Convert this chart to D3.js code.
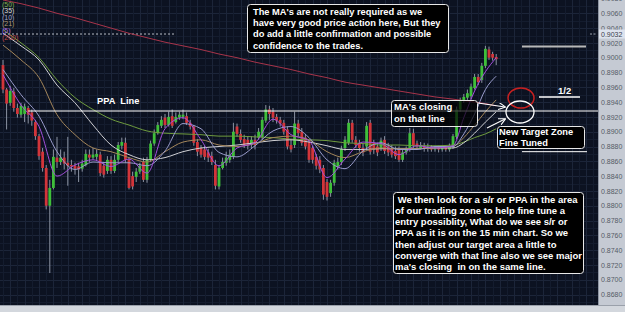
<!DOCTYPE html>
<html>
<head>
<meta charset="utf-8">
<script src="https://cdn.jsdelivr.net/npm/d3@7"></script>
<style>
  html, body { margin: 0; padding: 0; background: #0c1221; }
  svg { display: block; }
  text { font-family: "Liberation Sans", Arial, sans-serif; white-space: pre; }
</style>
</head>
<body>
<svg id="chart" width="625" height="312"></svg>
<script>
// 15 min candles
const open = [
  0.8990,0.8957,0.8939,0.8954,0.8932,0.8923,0.8924,0.8932,0.8926,0.8913,
  0.8894,0.8873,0.8851,0.8800,0.8824,0.8865,0.8859,0.8865,0.8858,0.8855,
  0.8854,0.8853,0.8850,0.8855,0.8869,0.8865,0.8866,0.8869,0.8854,0.8847,
  0.8862,0.8847,0.8862,0.8881,0.8885,0.8862,0.8840,0.8839,0.8846,0.8859,
  0.8835,0.8862,0.8884,0.8898,0.8908,0.8919,0.8909,0.8921,0.8913,0.8919,
  0.8920,0.8921,0.8912,0.8907,0.8886,0.8878,0.8876,0.8872,0.8867,0.8855,
  0.8826,0.8851,0.8858,0.8862,0.8866,0.8907,0.8897,0.8890,0.8889,0.8882,
  0.8889,0.8892,0.8893,0.8915,0.8930,0.8927,0.8920,0.8916,0.8912,0.8903,
  0.8882,0.8882,0.8911,0.8900,0.8892,0.8886,0.8878,0.8866,0.8862,0.8851,
  0.8832,0.8817,0.8831,0.8853,0.8859,0.8878,0.8885,0.8912,0.8889,0.8885,
  0.8878,0.8880,0.8912,0.8885,0.8880,0.8878,0.8889,0.8880,0.8878,0.8874,
  0.8876,0.8862,0.8872,0.8876,0.8898,0.8884,0.8878,0.8881,0.8877,0.8880,
  0.8876,0.8878,0.8876,0.8878,0.8876,0.8880,0.8893,0.8930,0.8942,0.8946,
  0.8948,0.8959,0.8974,0.8970,0.8989,0.9011,0.9005,0.9001
];
const high = [
  0.8997,0.8959,0.8962,0.8959,0.8938,0.8939,0.8938,0.8935,0.8930,0.8916,
  0.8897,0.8878,0.8855,0.8835,0.8876,0.8893,0.8876,0.8873,0.8893,0.8862,
  0.8858,0.8858,0.8862,0.8876,0.8876,0.8878,0.8876,0.8873,0.8859,0.8867,
  0.8867,0.8869,0.8886,0.8892,0.8892,0.8865,0.8846,0.8851,0.8858,0.8865,
  0.8866,0.8888,0.8903,0.8913,0.8921,0.8924,0.8927,0.8930,0.8926,0.8927,
  0.8930,0.8926,0.8916,0.8909,0.8890,0.8882,0.8881,0.8877,0.8873,0.8862,
  0.8855,0.8865,0.8873,0.8876,0.8912,0.8911,0.8903,0.8896,0.8893,0.8894,
  0.8896,0.8905,0.8920,0.8936,0.8935,0.8932,0.8924,0.8920,0.8916,0.8907,
  0.8889,0.8927,0.8916,0.8905,0.8897,0.8890,0.8881,0.8870,0.8867,0.8855,
  0.8836,0.8835,0.8862,0.8865,0.8881,0.8894,0.8917,0.8916,0.8894,0.8889,
  0.8884,0.8913,0.8916,0.8889,0.8885,0.8892,0.8894,0.8885,0.8882,0.8880,
  0.8880,0.8876,0.8880,0.8905,0.8904,0.8888,0.8886,0.8885,0.8884,0.8882,
  0.8881,0.8881,0.8881,0.8881,0.8884,0.8897,0.8934,0.8946,0.8951,0.8957,
  0.8965,0.8978,0.8978,0.8993,0.9016,0.9015,0.9008,0.9005
];
const low = [
  0.8952,0.8903,0.8935,0.8927,0.8919,0.8919,0.8913,0.8911,0.8908,0.8889,
  0.8862,0.8846,0.8795,0.8709,0.8822,0.8851,0.8855,0.8849,0.8827,0.8846,
  0.8842,0.8832,0.8846,0.8853,0.8859,0.8862,0.8862,0.8840,0.8838,0.8843,
  0.8843,0.8844,0.8858,0.8876,0.8858,0.8822,0.8822,0.8832,0.8843,0.8832,
  0.8831,0.8859,0.8881,0.8896,0.8905,0.8905,0.8907,0.8905,0.8911,0.8916,
  0.8917,0.8909,0.8903,0.8881,0.8867,0.8865,0.8862,0.8859,0.8855,0.8822,
  0.8822,0.8849,0.8854,0.8858,0.8863,0.8893,0.8885,0.8878,0.8876,0.8878,
  0.8876,0.8889,0.8889,0.8912,0.8916,0.8913,0.8911,0.8907,0.8896,0.8876,
  0.8872,0.8878,0.8894,0.8881,0.8876,0.8858,0.8857,0.8849,0.8844,0.8808,
  0.8807,0.8812,0.8827,0.8849,0.8855,0.8874,0.8882,0.8885,0.8878,0.8873,
  0.8867,0.8876,0.8869,0.8870,0.8867,0.8874,0.8870,0.8867,0.8865,0.8863,
  0.8859,0.8859,0.8869,0.8873,0.8878,0.8876,0.8876,0.8873,0.8873,0.8873,
  0.8873,0.8872,0.8873,0.8873,0.8873,0.8877,0.8890,0.8927,0.8939,0.8943,
  0.8944,0.8957,0.8963,0.8966,0.8986,0.8997,0.8996,0.8990
];
const close = [
  0.8957,0.8938,0.8955,0.8932,0.8924,0.8935,0.8934,0.8923,0.8915,0.8894,
  0.8867,0.8851,0.8800,0.8824,0.8866,0.8859,0.8865,0.8857,0.8854,0.8853,
  0.8850,0.8849,0.8857,0.8870,0.8865,0.8869,0.8870,0.8844,0.8842,0.8862,
  0.8847,0.8862,0.8882,0.8886,0.8862,0.8824,0.8826,0.8846,0.8854,0.8835,
  0.8862,0.8884,0.8898,0.8909,0.8916,0.8909,0.8920,0.8908,0.8920,0.8923,
  0.8923,0.8912,0.8907,0.8885,0.8873,0.8869,0.8866,0.8865,0.8859,0.8827,
  0.8851,0.8859,0.8865,0.8869,0.8900,0.8897,0.8889,0.8882,0.8882,0.8889,
  0.8882,0.8900,0.8916,0.8930,0.8924,0.8919,0.8915,0.8911,0.8900,0.8880,
  0.8876,0.8911,0.8898,0.8885,0.8880,0.8862,0.8862,0.8854,0.8849,0.8815,
  0.8812,0.8831,0.8858,0.8859,0.8877,0.8889,0.8912,0.8889,0.8882,0.8878,
  0.8872,0.8908,0.8873,0.8876,0.8872,0.8888,0.8874,0.8872,0.8869,0.8867,
  0.8862,0.8872,0.8876,0.8898,0.8882,0.8880,0.8882,0.8877,0.8880,0.8876,
  0.8878,0.8876,0.8878,0.8876,0.8881,0.8894,0.8930,0.8943,0.8947,0.8952,
  0.8961,0.8974,0.8967,0.8989,0.9012,0.9000,0.9000,0.8998
];

// moving averages, sampled at these candle indexes
const maAt = [0,5,10,15,20,25,30,35,40,45,50,55,60,65,70,75,80,85,90,95,100,105,110,115,120,125,128,131,134,137];
const ma5 = [0.8977,0.8936,0.8907,0.8840,0.8855,0.8862,0.8853,0.8863,0.8844,0.8904,0.8919,0.8889,0.8854,0.8878,0.8885,0.8917,0.8896,0.8888,0.8838,0.8863,0.8886,0.8884,0.8869,0.8881,0.8878,0.8881,0.8919,0.8955,0.8981,0.9000];
const ma10 = [0.8984,0.8950,0.8921,0.8873,0.8849,0.8859,0.8858,0.8858,0.8854,0.8874,0.8911,0.8904,0.8872,0.8866,0.8881,0.8901,0.8907,0.8892,0.8862,0.8850,0.8874,0.8885,0.8876,0.8876,0.8880,0.8880,0.8897,0.8924,0.8957,0.8975];
const ma21 = [0.9017,0.8997,0.8973,0.8923,0.8896,0.8878,0.8873,0.8865,0.8859,0.8873,0.8886,0.8889,0.8882,0.8880,0.8884,0.8892,0.8894,0.8889,0.8873,0.8865,0.8873,0.8878,0.8877,0.8877,0.8878,0.8880,0.8892,0.8909,0.8927,0.8943];
const ma35 = [0.9033,0.9016,0.8997,0.8963,0.8939,0.8909,0.8882,0.8869,0.8862,0.8865,0.8873,0.8878,0.8880,0.8882,0.8885,0.8888,0.8889,0.8886,0.8881,0.8876,0.8876,0.8877,0.8877,0.8877,0.8878,0.8878,0.8885,0.8898,0.8913,0.8927];
const ma50 = [0.9038,0.9020,0.9000,0.8970,0.8946,0.8930,0.8917,0.8909,0.8901,0.8898,0.8897,0.8896,0.8894,0.8894,0.8893,0.8892,0.8890,0.8889,0.8888,0.8885,0.8884,0.8882,0.8882,0.8881,0.8881,0.8882,0.8886,0.8892,0.8897,0.8904];
const ma200 = [0.9078,0.9073,0.9067,0.9060,0.9054,0.9047,0.9040,0.9033,0.9027,0.9021,0.9016,0.9011,0.9005,0.9000,0.8994,0.8989,0.8984,0.8978,0.8973,0.8967,0.8963,0.8959,0.8955,0.8951,0.8947,0.8944,0.8942,0.8940,0.8938,0.8935];

const maLegend = ['(50)', '(35)', '(10)', '(21)', '(5)', '(200)'];
const priceTicks = [0.8680,0.8700,0.8720,0.8740,0.8760,0.8780,0.8800,0.8820,0.8840,0.8860,0.8880,0.8900,0.8920,0.8940,0.8960,0.8980,0.9000,0.9020,0.9040,0.9060,0.9080];
const lastPrice = 0.9032;
const ppaLevel = 0.8928;
const targetLevels = [0.9015, 0.8947, 0.8873];

const W = 625, H = 312;
const plotRight = 598, plotBottom = 305;
const svg = d3.select('#chart');

const x = d3.scaleLinear().domain([0, close.length - 1]).range([3, 496.2]);
const y = d3.scaleLinear().domain([0.8680, 0.9060]).range([294.5, 13.3]);

// background
svg.append('rect').attr('width', W).attr('height', H).attr('fill', '#0c1221');

// grid
const grid = svg.append('g');
d3.range(0.8660, 0.9090, 0.001).forEach((p, i) => {
  grid.append('line').attr('x1', 0).attr('x2', plotRight)
    .attr('y1', Math.round(y(p)) + 0.5).attr('y2', Math.round(y(p)) + 0.5)
    .attr('stroke', i % 2 ? '#141c2e' : '#1c2539').attr('stroke-width', 1);
});
d3.range(-2, 170, 2).forEach((k, i) => {
  const gx = Math.round(x(k)) + 0.5;
  if (gx > plotRight) return;
  grid.append('line').attr('x1', gx).attr('x2', gx).attr('y1', 0).attr('y2', plotBottom)
    .attr('stroke', i % 2 ? '#141c2e' : '#1c2539').attr('stroke-width', 1);
});

// dashed last-price line at the left
svg.append('line').attr('x1', 0).attr('x2', 174)
  .attr('y1', y(lastPrice)).attr('y2', y(lastPrice))
  .attr('stroke', '#b8bcc6').attr('stroke-width', 1).attr('stroke-dasharray', '2,2');

// candles
const candles = svg.append('g');
close.forEach((c, i) => {
  const up = c >= open[i];
  const cx = x(i);
  candles.append('line').attr('x1', cx).attr('x2', cx)
    .attr('y1', y(high[i])).attr('y2', y(low[i]))
    .attr('stroke', '#8c93a3').attr('stroke-width', 1);
  const top = y(Math.max(open[i], c)), bot = y(Math.min(open[i], c));
  candles.append('rect').attr('x', cx - 1.4).attr('width', 2.8)
    .attr('y', top).attr('height', Math.max(1, bot - top))
    .attr('fill', up ? '#3fbf3a' : '#d2353a');
});

// moving averages
const maLine = d3.line().x((d, i) => x(maAt[i])).y(d => y(d)).curve(d3.curveMonotoneX);
const maSeries = [
  { v: ma200, c: '#a8344a' },
  { v: ma50, c: '#6f9c3e' },
  { v: ma35, c: '#d0d0d4' },
  { v: ma21, c: '#a4865a' },
  { v: ma10, c: '#9a9ccc' },
  { v: ma5, c: '#a450dc' }
];
maSeries.forEach(s => {
  svg.append('path').datum(s.v).attr('d', maLine)
    .attr('fill', 'none').attr('stroke', s.c).attr('stroke-width', 1);
});

// legend top-left
const legendColors = ['#7fae4c', '#d8d8d8', '#a8a8c8', '#b09a70', '#b070e0', '#c04848'];
maLegend.forEach((t, i) => {
  svg.append('text').attr('x', 2).attr('y', 6.5 + i * 6.6)
    .attr('font-size', 7).attr('fill', legendColors[i]).text(t);
});

// PPA line
svg.append('line').attr('x1', x(7)).attr('x2', plotRight)
  .attr('y1', y(ppaLevel)).attr('y2', y(ppaLevel))
  .attr('stroke', '#ffffff').attr('stroke-width', 1.2);
svg.append('text').attr('x', 97).attr('y', 104).attr('font-size', 9.3)
  .attr('font-weight', 'bold').attr('fill', '#ffffff').text('PPA  Line');

// target levels on the right
const lv = svg.append('g');
lv.append('line').attr('x1', 522).attr('x2', 586).attr('y1', y(targetLevels[0])).attr('y2', y(targetLevels[0]))
  .attr('stroke', '#b8b8b8').attr('stroke-width', 2);
lv.append('line').attr('x1', 539).attr('x2', 580).attr('y1', y(targetLevels[1])).attr('y2', y(targetLevels[1]))
  .attr('stroke', '#ffffff').attr('stroke-width', 1.5);
lv.append('line').attr('x1', 522).attr('x2', 587).attr('y1', y(targetLevels[2])).attr('y2', y(targetLevels[2]))
  .attr('stroke', '#ffffff').attr('stroke-width', 1);
svg.append('text').attr('x', 558).attr('y', 93.5).attr('font-size', 9.5)
  .attr('font-weight', 'bold').attr('fill', '#ffffff').text('1/2');

// ellipses
svg.append('ellipse').attr('cx', 521).attr('cy', 98).attr('rx', 13).attr('ry', 10)
  .attr('fill', 'none').attr('stroke', '#c82020').attr('stroke-width', 1.5);
svg.append('ellipse').attr('cx', 520).attr('cy', 112).attr('rx', 14).attr('ry', 11)
  .attr('fill', 'none').attr('stroke', '#ffffff').attr('stroke-width', 1.3);

// arrows
const defs = svg.append('defs');
defs.append('marker').attr('id', 'arr').attr('viewBox', '0 0 10 10')
  .attr('refX', 9).attr('refY', 5).attr('markerWidth', 6).attr('markerHeight', 6)
  .attr('orient', 'auto')
  .append('path').attr('d', 'M0,0 L10,5 L0,10').attr('fill', 'none').attr('stroke', '#ffffff').attr('stroke-width', 1.5);
[[478, 103, 505, 107], [487, 128, 505, 119]].forEach(a => {
  svg.append('line').attr('x1', a[0]).attr('y1', a[1]).attr('x2', a[2]).attr('y2', a[3])
    .attr('stroke', '#ffffff').attr('stroke-width', 1.2).attr('marker-end', 'url(#arr)');
});

// annotation boxes
function note(bx, by, bw, bh, lines, tx, ty, lh, fs, op) {
  svg.append('rect').attr('x', bx + 0.5).attr('y', by + 0.5).attr('width', bw).attr('height', bh)
    .attr('rx', 3).attr('fill', '#000000').attr('fill-opacity', op)
    .attr('stroke', '#e8e8e8').attr('stroke-width', 1);
  lines.forEach((t, i) => {
    svg.append('text').attr('x', tx).attr('y', ty + i * lh).attr('font-size', fs)
      .attr('font-weight', 'bold').attr('fill', '#ffffff').text(t);
  });
}
note(247, 4, 201, 48, [
  "The MA's are not really required as we",
  "have very good price action here, But they",
  "do add a little confirmation and possible",
  "confidence to the trades."
], 253, 14.5, 11.4, 9.3, 1);
note(391, 100, 86, 26, ["MA's closing", "on that line"], 394, 110, 11.5, 9.5, 0.7);
note(497, 126, 87, 22, ["New Target Zone", "Fine Tuned"], 499, 134.5, 11, 9.3, 1);
note(393, 192, 190, 81, [
  " We then look for a s/r or PPA in the area",
  "of our trading zone to help fine tune a",
  "entry possiblity, What do we see s/r or",
  "PPA as it is on the 15 min chart. So we",
  "then adjust our target area a little to",
  "converge with that line also we see major",
  "ma's closing  in on the same line."
], 395, 202.5, 11.3, 9.5, 1);

// right price axis
svg.append('rect').attr('x', plotRight).attr('y', 0).attr('width', W - plotRight).attr('height', plotBottom)
  .attr('fill', '#c5cad3');
svg.append('line').attr('x1', plotRight + 0.5).attr('x2', plotRight + 0.5).attr('y1', 0).attr('y2', plotBottom)
  .attr('stroke', '#8f96a3');
const axis = d3.axisRight(y).tickValues(priceTicks).tickSize(0).tickPadding(3).tickFormat(d3.format('.4f'));
const ag = svg.append('g').attr('transform', `translate(${plotRight},0)`).call(axis);
ag.select('.domain').remove();
ag.selectAll('text').attr('font-size', 7).attr('fill', '#555b66')
  .attr('font-family', '"Liberation Sans", Arial, sans-serif');

// last price tag
svg.append('line').attr('x1', 590).attr('x2', 597).attr('y1', y(lastPrice)).attr('y2', y(lastPrice))
  .attr('stroke', '#9aa2b0').attr('stroke-dasharray', '2,1.5');
svg.append('rect').attr('x', plotRight + 1).attr('y', y(lastPrice) - 4.5).attr('width', 26).attr('height', 9)
  .attr('fill', '#dde3ee');
svg.append('text').attr('x', plotRight + 3).attr('y', y(lastPrice) + 2.5).attr('font-size', 7)
  .attr('fill', '#3a404c').text(d3.format('.4f')(lastPrice));

// bottom strip
svg.append('rect').attr('x', 0).attr('y', plotBottom).attr('width', W).attr('height', H - plotBottom)
  .attr('fill', '#d3d7dd');
svg.append('line').attr('x1', 0).attr('x2', W).attr('y1', plotBottom + 0.5).attr('y2', plotBottom + 0.5)
  .attr('stroke', '#9aa0aa');
</script>
</body>
</html>
